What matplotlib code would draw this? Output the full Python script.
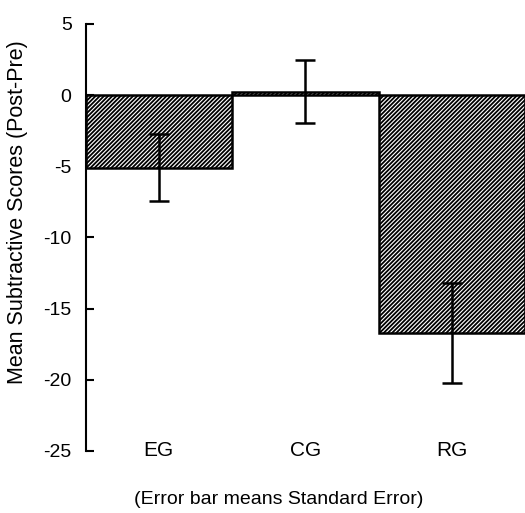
import matplotlib
matplotlib.use("Agg")
import matplotlib.pyplot as plt

categories = ["EG", "CG", "RG"]
means = [-5.1, 0.25, -16.7]
std_errors = [2.35, 2.2, 3.5]
y_ticks = [5, 0, -5, -10, -15, -20, -25]

plt.rcParams['font.family'] = ['Liberation Sans', 'DejaVu Sans']
plt.rcParams['hatch.linewidth'] = 1.3
plt.rcParams['hatch.color'] = 'black'

fig = plt.figure(figsize=(5.25, 5.13), dpi=100)
ax = fig.add_axes([85.5 / 525, 1 - 451 / 513, 1 - 85.5 / 525, (451 - 24) / 513])

x = list(range(len(categories)))
ax.bar(x, means, width=1.0, color='white', edgecolor='black', linewidth=1.8,
       hatch='////////', zorder=2)
ax.errorbar(x, means, yerr=std_errors, fmt='none', ecolor='black',
            elinewidth=1.8, capsize=7.5, capthick=1.8, zorder=3)

ax.set_xlim(-0.5, 2.5)
ax.set_ylim(-25, 5)
ax.set_yticks(y_ticks)
ax.set_yticklabels([str(v) for v in y_ticks])
ax.tick_params(axis='y', direction='in', length=6, width=1.5, pad=10, labelsize=14)
ax.set_xticks([])
for s in ['top', 'right', 'bottom']:
    ax.spines[s].set_visible(False)
ax.spines['left'].set_linewidth(1.5)

for xi, c in zip(x, categories):
    ax.text(xi, -25, c, ha='center', va='center', fontsize=15)

fig.text(18 / 525, 1 - 212 / 513, "Mean Subtractive Scores (Post-Pre)",
         rotation=90, ha='center', va='center', fontsize=15.5)
fig.text(279 / 525, 1 - 499 / 513, "(Error bar means Standard Error)",
         ha='center', va='center', fontsize=14)

fig.savefig("out.png", dpi=100)
